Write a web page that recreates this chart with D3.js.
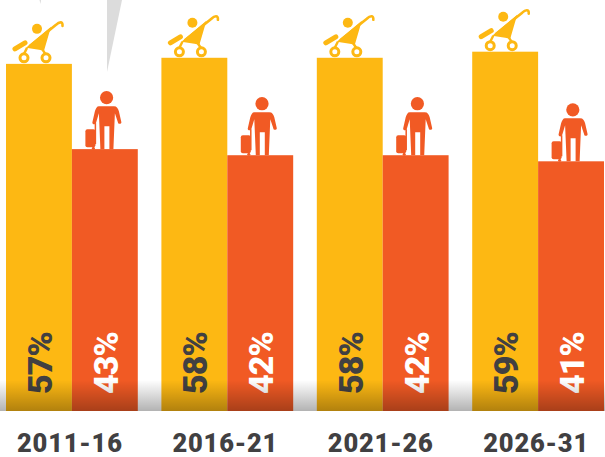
<!DOCTYPE html>
<html>
<head>
<meta charset="utf-8">
<script src="https://cdn.jsdelivr.net/npm/d3@7"></script>
<style>
body { margin: 0; background: #fff; }
svg { display: block; }
text { font-family: Roboto, sans-serif; font-weight: 900; }
.period .tick text { font-size: 25.5px; letter-spacing: 0.8px; fill: #414042; }
.share { font-size: 34px; letter-spacing: -1px; }
</style>
</head>
<body>
<svg id="chart" width="605" height="457"></svg>
<script>
const periods = ["2011-16", "2016-21", "2021-26", "2026-31"]
const groups = ["children", "adults"]
const children = [57, 58, 58, 59]
const adults = [43, 42, 42, 41]
const colors = ["#fdb813", "#f15a24"]

const width = 605, baseline = 411
let svg = d3.select("#chart")

let xScale = d3.scaleBand().domain(periods).range([6, 604]).paddingInner(0.152).paddingOuter(0)
let groupScale = d3.scaleBand().domain(groups).range([0, xScale.bandwidth()])
let yScale = d3.scaleLinear().domain([0, 100]).range([baseline, baseline - 609])
let colorScale = d3.scaleOrdinal().domain(groups).range(colors)

// icons, drawn from the top left corner of the bar they stand on
let defs = svg.append("defs")
let stroller = defs.append("g").attr("id", "stroller")
stroller.append("circle").attr("cx", 31).attr("cy", -35).attr("r", 5).attr("fill", colors[0])
stroller.append("path").attr("fill", colors[0])
    .attr("d", "M20,-16 L45,-37 L38,-13 L33,-14 Z")
stroller.append("path").attr("fill", "none").attr("stroke", colors[0]).attr("stroke-width", 2.6).attr("stroke-linecap", "round")
    .attr("d", "M24,-18 L50,-39 C53,-42 57,-43 56.5,-38")
stroller.append("line").attr("x1", 9).attr("y1", -15).attr("x2", 19).attr("y2", -21)
    .attr("stroke", colors[0]).attr("stroke-width", 5).attr("stroke-linecap", "round")
stroller.append("path").attr("fill", "none").attr("stroke", colors[0]).attr("stroke-width", 2.4)
    .attr("d", "M21,-16 L18,-10 M36,-15 L40,-9")
stroller.selectAll(".wheel").data([18, 40]).enter().append("circle")
    .attr("cx", d => d).attr("cy", -6).attr("r", 4).attr("fill", "#fff")
    .attr("stroke", colors[0]).attr("stroke-width", 3)

let person = defs.append("g").attr("id", "person")
person.append("circle").attr("cx", 34.7).attr("cy", -51.5).attr("r", 6.6).attr("fill", colors[1])
person.append("path").attr("fill", colors[1])
    .attr("d", "M27,-43 L42,-43 C45,-43 46,-41 47,-38 L49.5,-27 C49.5,-25 46,-25 46,-27 L43,-36 L41.5,0 L37.5,0 L37.5,-23 L32.5,-23 L32.5,0 L28.5,0 L27,-36 L24,-26 C23,-24 20,-25 20.5,-27 L23,-38 C24,-41 25,-43 27,-43 Z")
person.append("rect").attr("x", 13.5).attr("y", -20).attr("width", 10).attr("height", 18).attr("rx", 2).attr("fill", colors[1])
person.append("line").attr("x1", 23.5).attr("y1", -26).attr("x2", 23.5).attr("y2", -5).attr("stroke", colors[1]).attr("stroke-width", 1.5)
person.append("circle").attr("cx", 21.5).attr("cy", -1).attr("r", 1.5).attr("fill", colors[1])

// leftovers of the slanted pointer at the top
svg.append("path").attr("d", "M107,0 L122,0 L107,72 Z").attr("fill", "#dcdcdc")
svg.append("path").attr("d", "M39.5,0 L41,0 L40.5,4 Z").attr("fill", "#dcdcdc")

let series = periods.map((p, i) => [
    { period: p, group: groups[0], value: children[i] },
    { period: p, group: groups[1], value: adults[i] }
])

let cols = svg.selectAll(".col")
    .data(series)
    .enter()
    .append("g")
    .attr("class", "col")
    .attr("transform", d => `translate(${xScale(d[0].period)},0)`)
    .selectAll("g")
    .data(d => d)
    .enter()
    .append("g")

cols.append("rect")
    .attr("x", d => groupScale(d.group))
    .attr("y", d => yScale(d.value))
    .attr("width", groupScale.bandwidth())
    .attr("height", d => baseline - yScale(d.value))
    .attr("fill", d => colorScale(d.group))

cols.append("use")
    .attr("href", d => d.group == groups[0] ? "#stroller" : "#person")
    .attr("transform", d => `translate(${groupScale(d.group)},${yScale(d.value)})`)

cols.append("text")
    .attr("class", "share")
    .attr("transform", d => `translate(${groupScale(d.group) + groupScale.bandwidth() / 2 + 13},394) rotate(-90)`)
    .attr("fill", d => d.group == groups[0] ? "#414042" : "#fff")
    .text(d => d.value + "%")

// dark fade along the floor
let fade = defs.append("linearGradient").attr("id", "fade").attr("x1", 0).attr("y1", 0).attr("x2", 0).attr("y2", 1)
fade.append("stop").attr("offset", "0%").attr("stop-color", "#000").attr("stop-opacity", 0)
fade.append("stop").attr("offset", "100%").attr("stop-color", "#000").attr("stop-opacity", 0.3)
svg.append("rect").attr("x", 0).attr("y", 380).attr("width", width).attr("height", baseline - 380).attr("fill", "url(#fade)")

// x Axis
let x_axis = d3.axisBottom(xScale).tickSize(0).tickPadding(0)
svg.append("g").attr("class", "period")
    .attr("transform", `translate(-2,${baseline + 23})`)
    .call(x_axis)
    .call(g => g.select(".domain").remove())
</script>
</body>
</html>
